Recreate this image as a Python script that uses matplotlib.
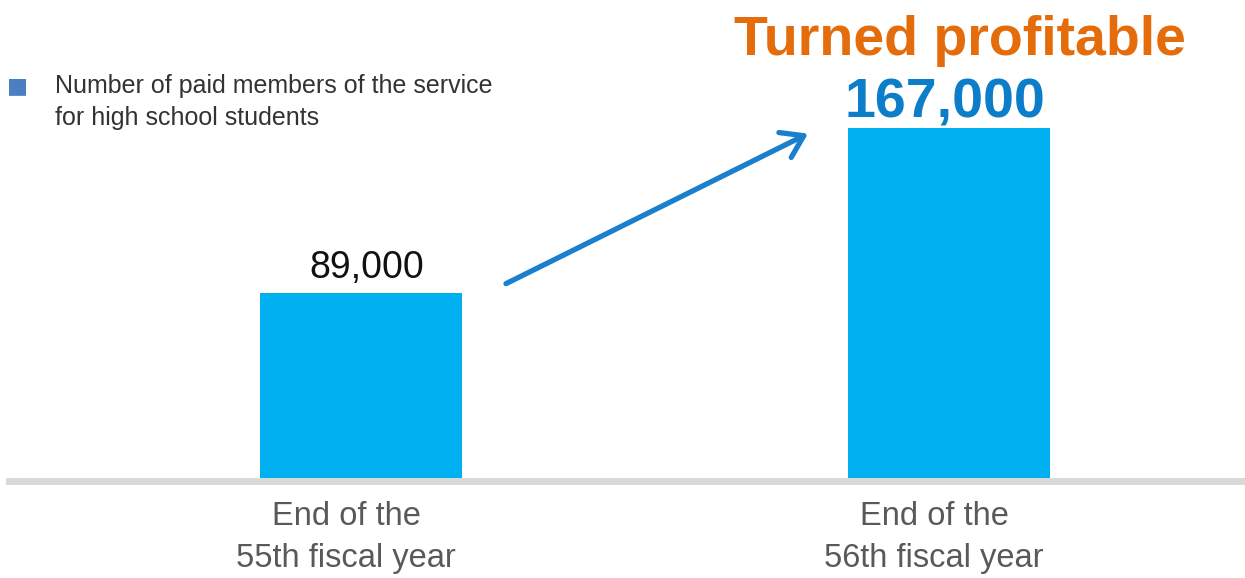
import numpy as np
import matplotlib
matplotlib.use("Agg")
import matplotlib.pyplot as plt

# ---- data ----
categories = ["End of the\n55th fiscal year", "End of the\n56th fiscal year"]
values = [89000, 167000]
value_labels = ["89,000", "167,000"]
legend_label = "Number of paid members of the service\nfor high school students"
headline = "Turned profitable"

plt.rcParams["font.family"] = ["Liberation Sans", "DejaVu Sans"]

W, H = 1245, 578
DPI = 100
fig = plt.figure(figsize=(W / DPI, H / DPI), dpi=DPI)
fig.patch.set_facecolor("white")

base_px = 481  # baseline, pixels from top
ax = fig.add_axes([0, (H - base_px) / H, 1, base_px / H])
x = np.arange(len(values))
spacing = 588.0
bar_w = 202 / spacing
ax.bar(x, values, width=bar_w, color="#00b0f0", zorder=2)
ax.set_xlim(-361 / spacing, (W - 361) / spacing)
ax.set_ylim(0, 227300)
ax.axis("off")

# baseline
ax.axhline(0, xmin=9 / W, xmax=1, color="#d9d9d9", lw=5, zorder=3,
           clip_on=False)

pt = 72.0 / DPI  # points per pixel

# value labels
ax.annotate(value_labels[0], (x[0], values[0]), xytext=(6 * pt, 15 * pt),
            textcoords="offset points", ha="center", va="baseline",
            fontsize=27, color="#111111")
ax.annotate(value_labels[1], (x[1], values[1]), xytext=(-4 * pt, 10 * pt),
            textcoords="offset points", ha="center", va="baseline",
            fontsize=40, fontweight="bold", color="#0b7dc9")
ax.annotate(headline, (x[1], values[1]), xytext=(11 * pt, 73 * pt),
            textcoords="offset points", ha="center", va="baseline",
            fontsize=40, fontweight="bold", color="#e46c0a")

# category labels (one annotation per line for exact baselines)
for xi, lab in zip(x, categories):
    for k, line in enumerate(lab.split("\n")):
        ax.annotate(line, (xi, 0), xytext=(-15 * pt, (-44 - 42 * k) * pt),
                    textcoords="offset points", ha="center", va="baseline",
                    fontsize=23.5, color="#595959")

# growth arrow (from right of bar 1 top to near bar 2 top), in figure pixels
fig.canvas.draw()
p0 = ax.transData.transform((x[0] + bar_w / 2, values[0]))
p1 = ax.transData.transform((x[1] - bar_w / 2, values[1]))
start = (p0[0] + 44, p0[1] + 9)
tip = (p1[0] - 40, p1[1] - 6)
ax.annotate("", xy=tip, xycoords="figure pixels", xytext=start,
            textcoords="figure pixels",
            arrowprops=dict(arrowstyle="->,head_length=0.75,head_width=0.5",
                            mutation_scale=20, color="#1a7fcd", lw=3.8,
                            shrinkA=0, shrinkB=0, capstyle="round",
                            joinstyle="round"))

# legend
fig.text(17 / W, 1 - 86 / H, "■", fontsize=16, color="#4a7fc1",
         ha="center", va="center", family="DejaVu Sans")
lines = legend_label.split("\n")
fig.text(55 / W, 1 - 93 / H, lines[0], fontsize=18,
         color="#333333", ha="left", va="baseline")
fig.text(55 / W, 1 - 125 / H, lines[1], fontsize=18,
         color="#333333", ha="left", va="baseline")

fig.savefig("out.png", dpi=DPI, facecolor="white")
